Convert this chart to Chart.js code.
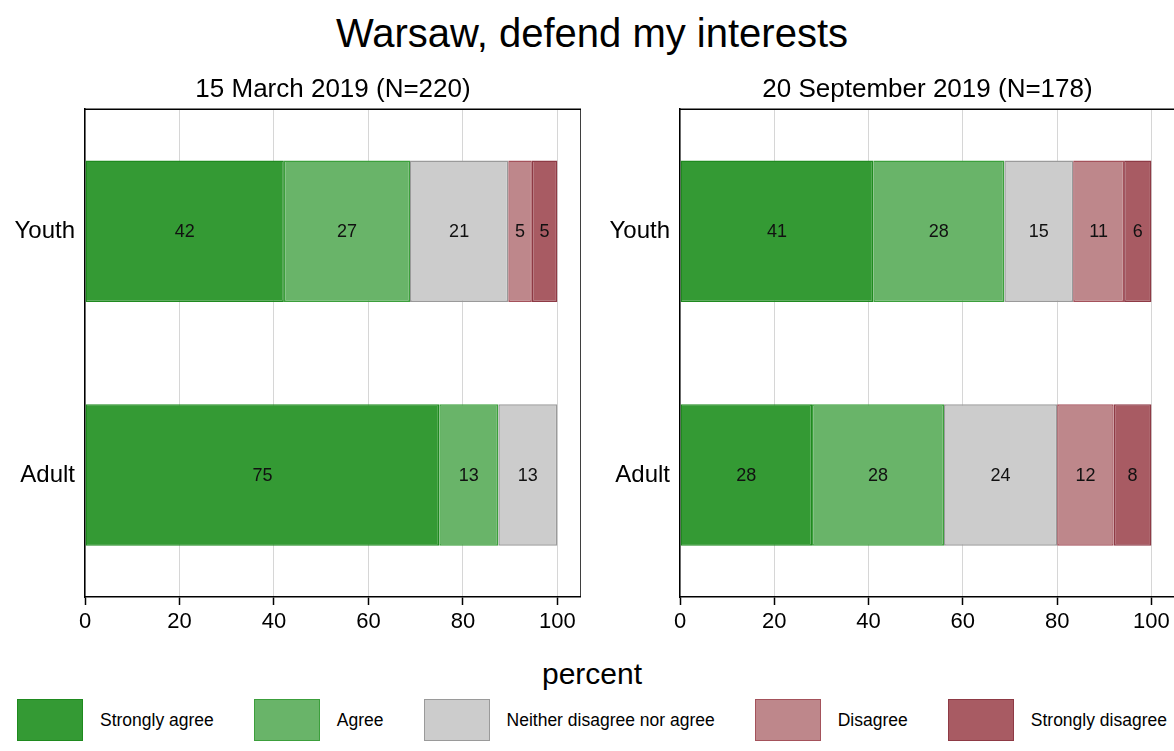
<!DOCTYPE html>
<html>
<head>
<meta charset="utf-8">
<title>Warsaw, defend my interests</title>
<script src="https://cdn.jsdelivr.net/npm/chart.js@4.4.1/dist/chart.umd.min.js"></script>
<style>
  body {
    margin: 0;
    width: 1174px;
    height: 751px;
    overflow: hidden;
    background: #fff;
    position: relative;
    font-family: 'Liberation Sans', Arial, sans-serif;
    color: #000;
  }
  #title {
    position: absolute;
    top: 7px;
    left: 5px;
    width: 1174px;
    text-align: center;
    font-size: 40px;
    line-height: 52px;
  }
  canvas { position: absolute; top: 74px; }
  #left { left: 0; }
  #right { left: 595px; }
  #xlabel {
    position: absolute;
    top: 652px;
    left: 5px;
    width: 1174px;
    text-align: center;
    font-size: 30px;
    line-height: 44px;
  }
  #legend {
    position: absolute;
    top: 699px;
    left: 17px;
    display: flex;
    gap: 40px;
    align-items: center;
  }
  .item { display: flex; align-items: center; }
  .swatch { width: 66px; height: 42px; box-sizing: border-box; border: 1.5px solid; }
  .item span { margin-left: 17px; font-size: 17.5px; white-space: nowrap; }
</style>
</head>
<body>
<div id="title">Warsaw, defend my interests</div>
<canvas id="left" width="581" height="568"></canvas>
<canvas id="right" width="580" height="568"></canvas>
<div id="xlabel">percent</div>
<div id="legend"></div>

<script>
// categories and answers
const groups = ['Youth', 'Adult'];
const responses = ['Strongly agree', 'Agree', 'Neither disagree nor agree', 'Disagree', 'Strongly disagree'];

// percent per answer, in the order of responses
const marchYouth = [42.1, 26.7, 20.8, 5.0, 5.4];
const marchAdult = [75, 12.5, 12.5, 0, 0];
const septYouth = [41, 27.8, 14.6, 10.8, 5.8];
const septAdult = [28, 28, 24, 12, 8];

const xTicks = [0, 20, 40, 60, 80, 100];

const fills = ['#349a34', '#69b469', '#cccccc', '#be878b', '#a85b63'];
const borders = ['#1f8a1f', '#3c9f3c', '#9a9a9a', '#a4525b', '#8e3a45'];

const FONT = "'Liberation Sans', Arial, sans-serif";

// numbers in the middle of each segment
const barLabels = {
    id: 'barLabels',
    afterDatasetsDraw(chart) {
        const ctx = chart.ctx;
        ctx.save();
        ctx.font = '18px ' + FONT;
        ctx.fillStyle = '#111';
        ctx.textAlign = 'center';
        ctx.textBaseline = 'middle';
        chart.data.datasets.forEach((ds, i) => {
            chart.getDatasetMeta(i).data.forEach((bar, j) => {
                const v = ds.data[j];
                if (!v) return;
                const p = bar.getCenterPoint();
                ctx.fillText(Math.round(v), p.x, p.y + 1);
            });
        });
        ctx.restore();
    }
};

// top and right edge of the plot box
const frame = {
    id: 'frame',
    afterDraw(chart) {
        const a = chart.chartArea;
        const ctx = chart.ctx;
        ctx.save();
        ctx.strokeStyle = '#000';
        ctx.lineWidth = 1.5;
        ctx.beginPath();
        ctx.moveTo(a.left, a.top);
        ctx.lineTo(a.right, a.top);
        ctx.lineTo(a.right, a.bottom);
        ctx.stroke();
        ctx.restore();
    }
};

function makePanel(canvasId, title, youth, adult) {
    const datasets = responses.map((r, i) => ({
        label: r,
        data: [youth[i], adult[i]],
        backgroundColor: fills[i],
        borderColor: borders[i],
        borderWidth: 1.5,
        borderSkipped: false,
        barPercentage: 0.58,
        categoryPercentage: 1
    }));

    return new Chart(document.getElementById(canvasId), {
        type: 'bar',
        data: { labels: groups, datasets: datasets },
        options: {
            indexAxis: 'y',
            responsive: false,
            animation: false,
            layout: { padding: 0 },
            scales: {
                x: {
                    stacked: true,
                    min: 0,
                    max: 105,
                    afterBuildTicks: s => { s.ticks = xTicks.map(v => ({ value: v })); },
                    afterFit: s => { s.height = 45; },
                    grid: {
                        color: '#d6d6d6',
                        lineWidth: 1,
                        tickColor: '#000',
                        tickLength: 8,
                        tickWidth: 1.5
                    },
                    border: { display: true, color: '#000', width: 1.5 },
                    ticks: {
                        color: '#000',
                        padding: 4,
                        maxRotation: 0,
                        font: { family: FONT, size: 22 }
                    }
                },
                y: {
                    stacked: true,
                    afterFit: s => { s.width = 85; },
                    grid: { display: false, drawTicks: false },
                    border: { display: true, color: '#000', width: 1.5 },
                    ticks: {
                        color: '#000',
                        padding: 10,
                        font: { family: FONT, size: 24 }
                    }
                }
            },
            plugins: {
                legend: { display: false },
                tooltip: { enabled: false },
                title: {
                    display: true,
                    text: title,
                    fullSize: false,
                    color: '#000',
                    font: { family: FONT, size: 26, weight: 'normal' },
                    padding: { top: 0, bottom: 4 }
                }
            }
        },
        plugins: [barLabels, frame]
    });
}

makePanel('left', '15 March 2019 (N=220)', marchYouth, marchAdult);
makePanel('right', '20 September 2019 (N=178)', septYouth, septAdult);

// shared legend below both panels
const legend = document.getElementById('legend');
responses.forEach((r, i) => {
    const item = document.createElement('div');
    item.className = 'item';
    const sw = document.createElement('div');
    sw.className = 'swatch';
    sw.style.background = fills[i];
    sw.style.borderColor = borders[i];
    const txt = document.createElement('span');
    txt.textContent = r;
    item.appendChild(sw);
    item.appendChild(txt);
    legend.appendChild(item);
});
</script>
</body>
</html>
